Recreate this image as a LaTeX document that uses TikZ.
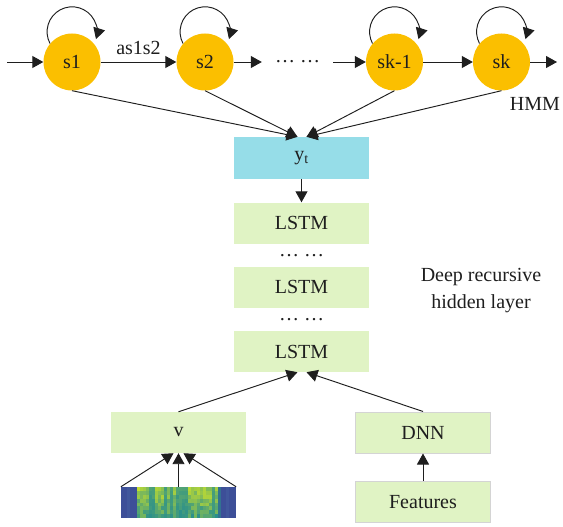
\documentclass[tikz,border=0pt]{standalone}
\usepackage{fontspec}
\setmainfont{Liberation Serif}
\usetikzlibrary{arrows.meta}

\definecolor{stategold}{HTML}{FBBF00}
\definecolor{layergreen}{HTML}{E0F3C4}
\definecolor{outcyan}{HTML}{96DDE8}
\definecolor{boxrule}{HTML}{D4D4D4}
\definecolor{ink}{HTML}{1E1E1E}
\definecolor{specblue}{HTML}{3D4F98}
\definecolor{specedge}{HTML}{41579C}
\definecolor{specyellow}{HTML}{C9E02B}
\definecolor{specgreen}{HTML}{6FC45C}
\definecolor{specteal}{HTML}{2A8F8C}

\begin{document}
\begin{tikzpicture}[x=1pt,y=-1pt,
  font=\fontsize{20}{23}\selectfont, text=ink,
  state/.style={circle, fill=stategold, minimum size=57pt, inner sep=0pt},
  layer/.style={fill=layergreen, minimum width=135pt, minimum height=41pt, inner sep=0pt},
  framed/.style={layer, draw=boxrule, line width=1pt},
  gap/.style={inner xsep=13pt, inner ysep=0pt},
  arr/.style={draw=ink, line width=0.95pt, -{Triangle[length=11pt,width=12pt]}}]
\useasboundingbox (0,0) rectangle (563,527);

% ---- HMM chain ----
\node[state] (s1)  at (72,62)    {s1};
\node[state] (s2)  at (205,62)   {s2};
\node[gap]   (hd)  at (297.5,62) {… …};
\node[state] (sk1) at (394.5,62) {sk-1};
\node[state] (sk)  at (501.5,62) {sk};
\node (hmm) at (535,104) {HMM};
\coordinate (in)  at (7,62);
\coordinate (out) at (557,62);

\draw[arr] (in) -- (s1);
\draw[arr] (s1) -- node[yshift=14pt] {as1s2} (s2);
\draw[arr] (s2) -- (hd);
\draw[arr] (hd) -- (sk1);
\draw[arr] (sk1) -- (sk);
\draw[arr] (sk) -- (out);

\foreach \s in {s1,s2,sk1,sk}
  \draw[arr] (\s.140) arc[start angle=208, end angle=-17, radius=25pt];

% ---- output and recurrent layers ----
\node[fill=outcyan, minimum width=135pt, minimum height=42pt, inner sep=0pt]
  (yt) at (301.5,158) {y\textsubscript{t}};
\node[layer] (l1) at (301.5,223)   {LSTM};
\node[gap]   (d1) at (301.5,256)   {… …};
\node[layer] (l2) at (301.5,287)   {LSTM};
\node[gap]   (d2) at (301.5,320)   {… …};
\node[layer] (l3) at (301.5,351.5) {LSTM};
\node[align=center, font=\fontsize{20}{27}\selectfont] (deep) at (481,291)
  {Deep recursive\\hidden layer};

\draw[arr] (s1.south)  -- ([xshift=-4pt]yt.north);
\draw[arr] (s2.south)  -- ([xshift=-4pt]yt.north);
\draw[arr] (sk1.south) -- ([xshift=5pt]yt.north);
\draw[arr] (sk.south)  -- ([xshift=5pt]yt.north);
\draw[arr] (yt) -- (l1);

% ---- inputs ----
\node[layer]  (v)    at (178.5,432.5) {v};
\node[framed] (dnn)  at (423,432.5)   {DNN};
\node[framed] (feat) at (423,502)     {Features};
\node[minimum width=115pt, minimum height=31pt, inner sep=0pt] (spec) at (178.5,502.5) {};

% spectrogram: dark margins, bright banded speech region in the middle
\fill[specblue] (spec.north west) rectangle (spec.south east);
\fill[specedge] (127,487) rectangle (130,518);
\fill[specedge] (226,487) rectangle (229,518);
\pgfmathsetseed{11}
\foreach \i in {0,...,26}{
  \pgfmathsetmacro\colf{rnd < 0.22 ? 0.3 : 1}
  \foreach \j in {0,...,7}{
    \pgfmathtruncatemacro\mix{100*\colf*(0.5*rnd + 0.5*(1-\j/7))}
    \fill[specyellow!\mix!specteal] (137+3*\i,487+3.875*\j) rectangle +(3.05,3.95);
  }
}
\fill[specteal!55!specblue] (218,487) rectangle (221,518);

\draw[arr] (v.north)   -- ([xshift=-4pt]l3.south);
\draw[arr] (dnn.north) -- ([xshift=5pt]l3.south);
\draw[arr] (feat) -- (dnn);
\draw[arr] (spec.north west) -- ([xshift=-5pt]v.south);
\draw[arr] (spec.north)      -- (v.south);
\draw[arr] (spec.north east) -- ([xshift=5pt]v.south);
\end{tikzpicture}
\end{document}
